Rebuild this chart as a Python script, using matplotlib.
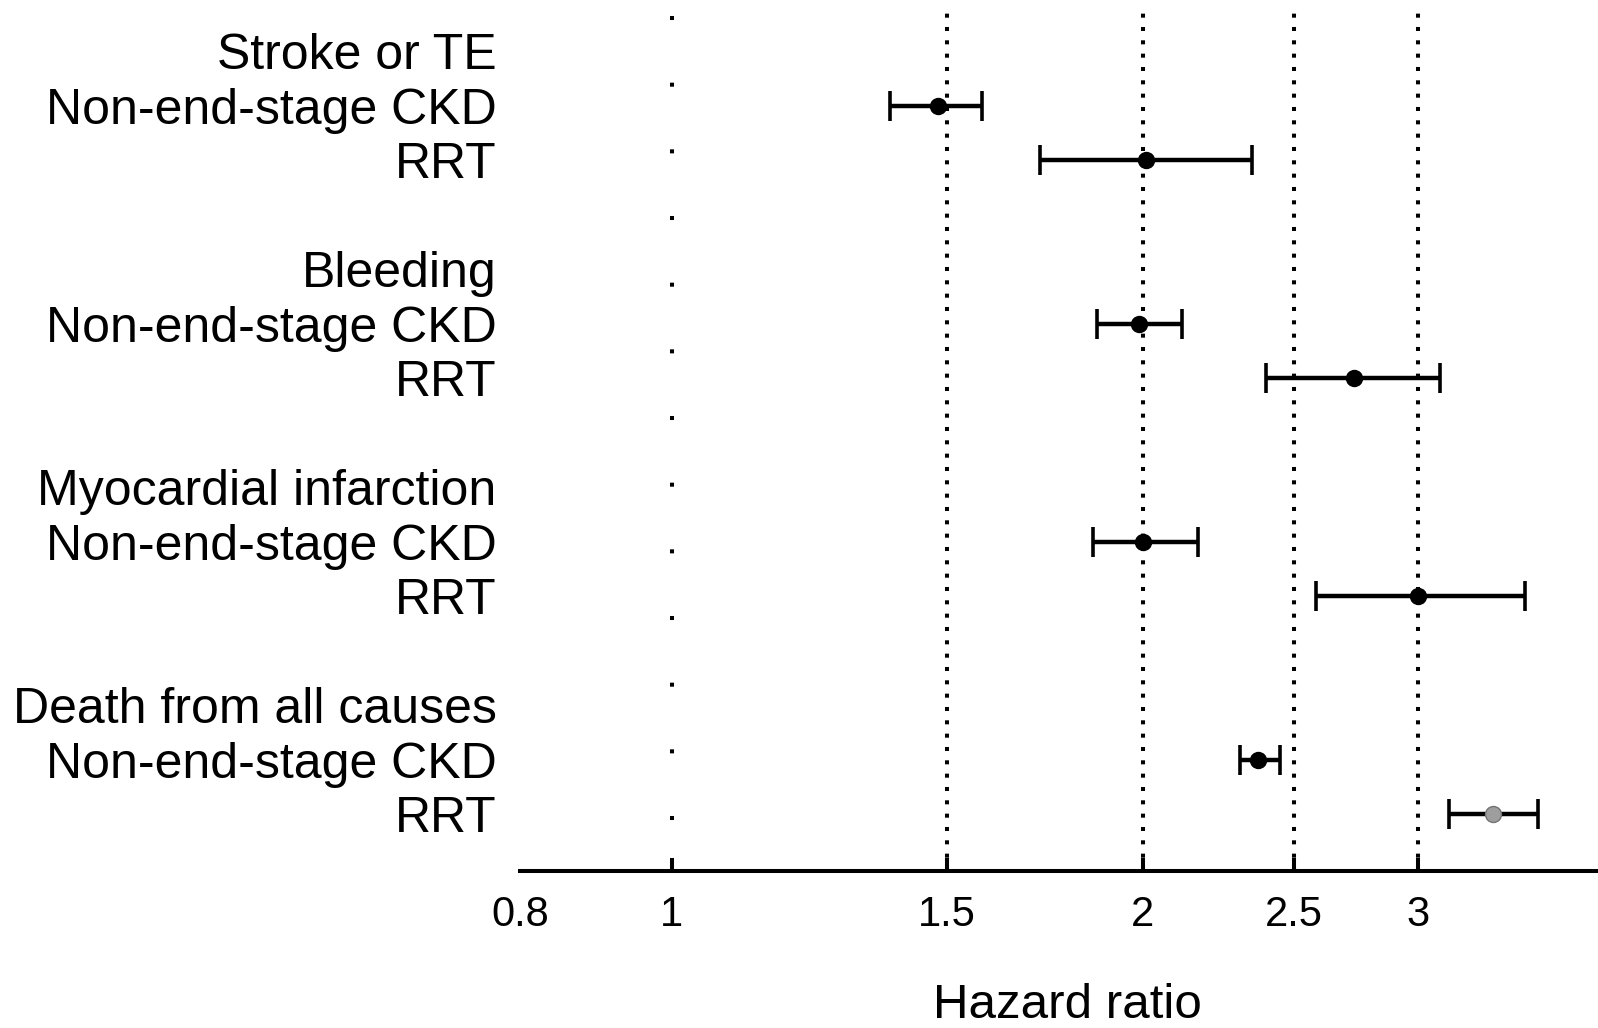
import matplotlib
matplotlib.use("Agg")
import matplotlib.pyplot as plt

plt.rcParams['font.family'] = ['Liberation Sans', 'DejaVu Sans']
plt.rcParams['lines.scale_dashes'] = False

# ---- data ----
row_labels = ["Stroke or TE", "Non-end-stage CKD", "RRT", "",
              "Bleeding", "Non-end-stage CKD", "RRT", "",
              "Myocardial infarction", "Non-end-stage CKD", "RRT", "",
              "Death from all causes", "Non-end-stage CKD", "RRT"]
est_rows = [1, 2, 5, 6, 9, 10, 13, 14]
hr = [1.48, 2.01, 1.99, 2.73, 2.00, 3.00, 2.37, 3.35]
ci_low = [1.38, 1.72, 1.87, 2.40, 1.86, 2.58, 2.31, 3.14]
ci_high = [1.58, 2.35, 2.12, 3.10, 2.17, 3.51, 2.45, 3.58]
ref_lines = [1.5, 2, 2.5, 3]
xticks = [0.8, 1, 1.5, 2, 2.5, 3]
xtick_labels = ["0.8", "1", "1.5", "2", "2.5", "3"]
x_label = "Hazard ratio"

W, H = 1598, 1028
fig = plt.figure(figsize=(W / 100, H / 100), dpi=100)
left_px, right_px, top_px, bot_px = 520, 1598, 12, 871
ax = fig.add_axes([left_px / W, 1 - bot_px / H, (right_px - left_px) / W, (bot_px - top_px) / H])

ax.set_xscale('log')
ax.set_xlim(0.8, 3.91)
row0, spacing = 51.5, 54.5
ax.set_ylim((bot_px - row0) / spacing, -(row0 - top_px) / spacing)

# reference lines
ax.axvline(1, color='black', lw=2.9, linestyle=(11.3, (2.9, 45.1)), dash_capstyle='butt', zorder=1)
for v in ref_lines:
    ax.axvline(v, color='black', lw=2.9, linestyle=(0, (2.9, 6.7)), dash_capstyle='butt', zorder=1)

# estimates
for i, (r, m, lo, hi) in enumerate(zip(est_rows, hr, ci_low, ci_high)):
    last = (i == len(hr) - 1)
    ax.errorbar(m, r, xerr=[[m - lo], [hi - m]], fmt='o', color='black',
                ecolor='black', elinewidth=3.2, capsize=11, capthick=2.6,
                markersize=11.5,
                markerfacecolor='0.62' if last else 'black',
                markeredgecolor='0.45' if last else 'black', zorder=3)

# axes styling
for s in ['left', 'right', 'top']:
    ax.spines[s].set_visible(False)
ax.spines['bottom'].set_linewidth(2.9)

ax.set_xticks(xticks)
ax.set_xticklabels(xtick_labels)
ax.xaxis.set_minor_locator(matplotlib.ticker.NullLocator())
ax.tick_params(axis='x', direction='in', length=9.5, width=2.9, labelsize=30, pad=17)
ax.xaxis.get_major_ticks()[0].tick1line.set_visible(False)

ax.set_yticks(range(len(row_labels)))
ax.set_yticklabels(row_labels)
ax.tick_params(axis='y', length=0, labelsize=36, pad=17)

fig.text(1067 / W, (H - 1018) / H, x_label, ha='center', va='baseline', fontsize=35.5)

fig.savefig("out.png", dpi=100)
